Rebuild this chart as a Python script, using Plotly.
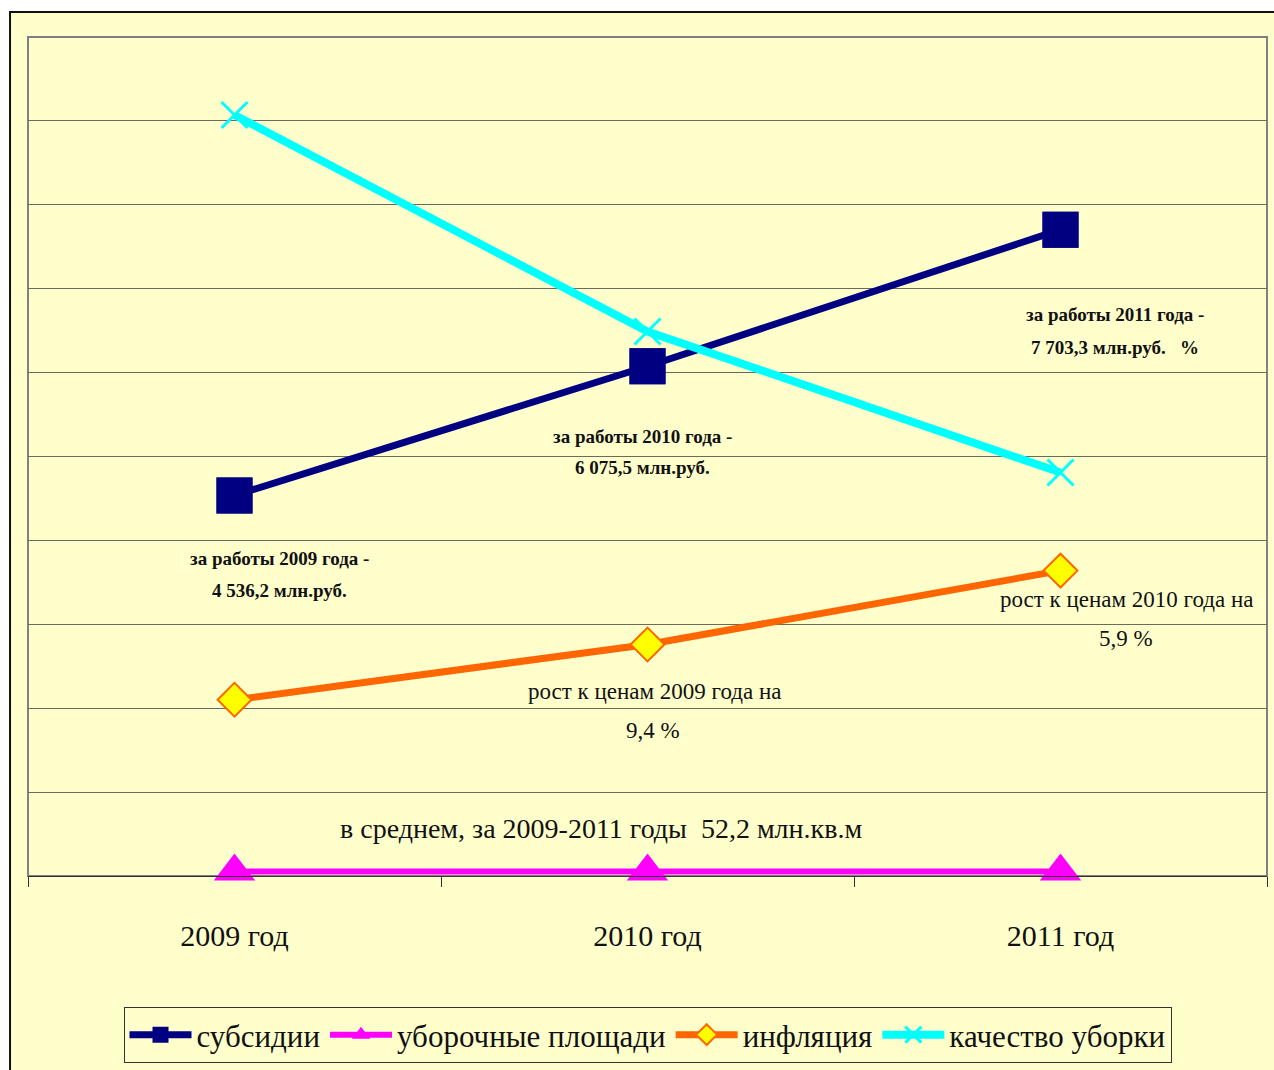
import plotly.graph_objects as go

# ---------------- data ----------------
years = ["2009 год", "2010 год", "2011 год"]
subsidies = [4536.2, 6075.5, 7703.3]        # млн.руб.
harvest_area = [52.2, 52.2, 52.2]            # млн.кв.м
inflation = [2100, 2760, 3640]               # relative scale
quality = [9070, 6490, 4810]                 # relative scale

series_names = ["субсидии", "уборочные площади", "инфляция", "качество уборки"]

label_texts = [
    "за работы 2009 года -", "4 536,2 млн.руб.",
    "за работы 2010 года -", "6 075,5 млн.руб.",
    "за работы 2011 года -", "7 703,3 млн.руб.   %",
]
growth_texts = ["рост к ценам 2009 года на", "9,4 %", "рост к ценам 2010 года на", "5,9 %"]
average_text = "в среднем, за 2009-2011 годы  52,2 млн.кв.м"

# ---------------- label placement (axis units) ----------------
label_x = [0.11, 0.11, 0.989, 0.989, 2.132, 2.132]
label_y = [3790, 3397, 5244, 4863, 6687, 6305]
growth_x = [1.016, 1.013, 2.161, 2.159]
growth_y = [2205, 1740, 3290, 2825]
average_pos = (0.887, 572)

FONT = "Liberation Serif, Times New Roman, serif"
BG = "#FFFFCC"

fig = go.Figure()

fig.add_trace(go.Scatter(
    x=years, y=subsidies, name=series_names[0], mode="lines+markers",
    line=dict(color="#000080", width=7),
    marker=dict(symbol="square", size=36, color="#000080"),
))
fig.add_trace(go.Scatter(
    x=years, y=harvest_area, name=series_names[1], mode="lines+markers",
    line=dict(color="#FF00FF", width=6), cliponaxis=False,
    marker=dict(symbol="triangle-up", size=36, color="#FF00FF"),
))
fig.add_trace(go.Scatter(
    x=years, y=inflation, name=series_names[2], mode="lines+markers",
    line=dict(color="#FF6600", width=7),
    marker=dict(symbol="diamond", size=26, color="#FFFF00",
                line=dict(color="#FF6600", width=2)),
))
fig.add_trace(go.Scatter(
    x=years, y=quality, name=series_names[3], mode="lines+markers",
    line=dict(color="#00FFFF", width=8),
    marker=dict(symbol="x-thin", size=26, color="#00FFFF",
                line=dict(color="#00FFFF", width=3)),
))
# subsidy markers drawn on top (as in the original)
fig.add_trace(go.Scatter(
    x=years, y=subsidies, mode="markers", showlegend=False, hoverinfo="skip",
    marker=dict(symbol="square", size=36, color="#000080"),
))

annotations = []
for t, x, y in zip(label_texts, label_x, label_y):
    annotations.append(dict(x=x, y=y, xref="x", yref="y", text="<b>" + t + "</b>",
                            showarrow=False, font=dict(family=FONT, size=19, color="#111111")))
for t, x, y in zip(growth_texts, growth_x, growth_y):
    annotations.append(dict(x=x, y=y, xref="x", yref="y", text=t,
                            showarrow=False, font=dict(family=FONT, size=23, color="#111111")))
annotations.append(dict(x=average_pos[0], y=average_pos[1], xref="x", yref="y",
                        text=average_text, showarrow=False,
                        font=dict(family=FONT, size=28, color="#111111")))

shapes = [
    # outer chart area
    dict(type="rect", xref="paper", yref="paper", x0=-0.0145, x1=1.03, y0=-0.3, y1=1.0298,
         fillcolor=BG, line=dict(color="#111111", width=2), layer="below"),
    # plot area border
    dict(type="rect", xref="paper", yref="paper", x0=0, x1=1, y0=0, y1=1,
         line=dict(color="#808080", width=2), layer="below"),
]

fig.update_layout(
    width=1274, height=1070,
    margin=dict(l=28, r=7, t=37, b=194),
    paper_bgcolor="white", plot_bgcolor=BG,
    font=dict(family=FONT, color="#111111"),
    showlegend=True,
    legend=dict(orientation="h", x=0.5, xanchor="center", y=-0.1895, yanchor="middle",
                bgcolor=BG, bordercolor="#333333", borderwidth=1,
                font=dict(family=FONT, size=31, color="#111111"),
                itemwidth=62, tracegroupgap=0),
    annotations=annotations,
    shapes=shapes,
)
fig.update_xaxes(
    type="category", range=[-0.5, 2.5], tickson="boundaries",
    ticks="outside", ticklen=10, tickcolor="#333333", tickwidth=1,
    showline=True, linecolor="#333333", linewidth=1,
    showgrid=False, zeroline=False,
    tickfont=dict(family=FONT, size=30, color="#111111"),
    ticklabelstandoff=33,
)
fig.update_yaxes(
    range=[0, 10000], tickvals=list(range(1000, 10000, 1000)),
    showticklabels=False, showgrid=True, gridcolor="#6a6a60", gridwidth=1,
    zeroline=False, showline=False, ticks="",
)

fig.write_html("out.html")
